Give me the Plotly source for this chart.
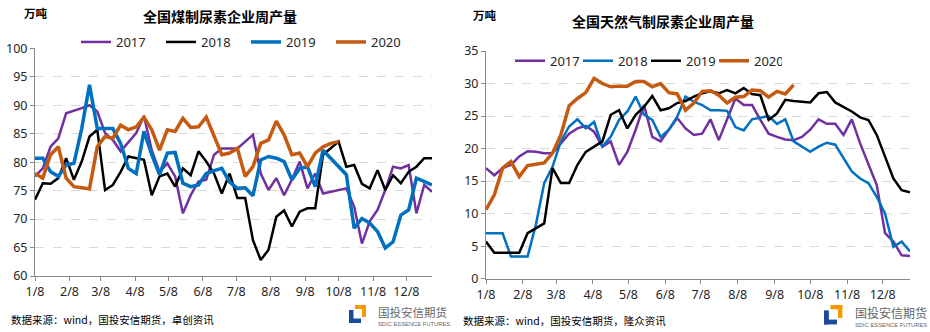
import pandas as pd
import plotly.graph_objects as go

W, H = 930, 332

# ---------------- data ----------------
week_dates = pd.date_range("2019-01-08", periods=52, freq="7D")
month_ticks = pd.date_range("2019-01-01", periods=12, freq="MS") + pd.Timedelta(days=7)
month_labels = [f"{m}/8" for m in range(1, 13)]

series_names = ["2017", "2018", "2019", "2020"]

coal_2017 = [77.5, 78.9, 82.7, 84.2, 88.6, 89.0, 89.5, 90.0, 88.9, 85.1, 83.9, 81.9, 83.6,
             85.1, 88.1, 82.1, 78.3, 79.8, 77.5, 71.0, 74.2, 76.6, 76.9, 81.3, 82.4, 82.4,
             82.4, 83.6, 84.8, 78.0, 75.1, 77.2, 74.2, 76.9, 80.1, 75.4, 78.0, 74.5, 74.8,
             75.1, 75.4, 72.2, 65.7, 69.6, 71.6, 75.1, 79.2, 78.9, 79.5, 71.0, 76.0, 74.8]
coal_2018 = [73.4, 76.3, 76.2, 77.2, 80.7, 76.9, 80.1, 84.5, 85.7, 75.1, 76.0, 78.3, 81.0,
             80.7, 80.4, 74.2, 77.5, 78.0, 75.7, 78.9, 77.7, 81.9, 80.1, 78.0, 74.5, 78.0,
             73.7, 73.7, 66.3, 62.8, 64.6, 70.4, 71.5, 68.7, 71.3, 71.9, 71.9, 81.3, 82.4,
             83.6, 79.2, 79.5, 76.2, 75.4, 78.6, 75.1, 77.7, 76.3, 78.3, 79.2, 80.7, 80.7]
coal_2019 = [80.7, 80.7, 78.3, 77.5, 79.5, 79.8, 85.9, 93.6, 85.9, 85.9, 85.9, 83.3, 78.9,
             78.0, 85.4, 81.3, 77.8, 81.6, 81.7, 76.3, 75.7, 76.0, 78.0, 78.5, 78.9, 76.5,
             75.4, 75.5, 74.1, 80.4, 81.0, 80.7, 80.1, 76.9, 78.9, 79.2, 75.7, 82.1, 80.7,
             79.2, 77.8, 68.4, 70.1, 69.3, 67.8, 64.9, 66.0, 70.7, 71.6, 77.2, 76.6, 76.0]
coal_2020 = [78.0, 77.2, 81.3, 82.7, 77.2, 75.7, 75.5, 75.3, 82.7, 84.5, 84.2, 86.5, 85.7,
             86.2, 87.9, 85.7, 82.1, 85.7, 85.4, 87.7, 86.1, 86.2, 87.9, 84.5, 81.3, 81.6,
             82.4, 77.5, 79.2, 83.3, 83.9, 87.2, 84.8, 81.3, 81.6, 79.2, 81.6, 82.7, 83.3,
             83.6]

gas_2017 = [17.0, 15.9, 17.0, 17.5, 18.8, 19.6, 19.5, 19.3, 19.3, 20.8, 22.3, 23.1, 23.5,
            22.6, 20.3, 21.1, 17.5, 19.5, 22.9, 26.7, 21.8, 21.1, 22.9, 24.7, 23.1, 22.1,
            22.3, 24.5, 21.3, 24.4, 27.7, 26.7, 26.7, 24.4, 22.3, 21.8, 21.4, 21.3, 21.8,
            22.9, 24.5, 23.8, 23.8, 22.1, 24.5, 20.8, 17.5, 14.4, 7.0, 5.7, 3.6, 3.5]
gas_2018 = [7.0, 7.0, 7.0, 3.4, 3.4, 3.4, 8.3, 14.7, 17.2, 21.1, 23.4, 24.5, 23.1,
            24.1, 20.3, 21.8, 24.4, 25.7, 28.0, 25.2, 24.4, 21.8, 22.9, 24.9, 28.0, 27.2,
            26.7, 25.9, 25.9, 25.8, 23.3, 22.8, 24.5, 24.8, 25.0, 23.8, 24.5, 21.1, 20.3,
            19.5, 20.3, 20.9, 20.6, 18.5, 16.5, 15.4, 14.7, 12.6, 10.0, 4.9, 5.7, 4.2]
gas_2019 = [5.7, 4.0, 4.0, 4.0, 4.0, 7.0, 7.7, 8.5, 17.0, 14.7, 14.7, 17.5, 19.5,
            20.3, 21.1, 25.2, 25.9, 23.1, 25.2, 26.4, 28.1, 25.9, 26.2, 27.0, 27.3, 28.0,
            28.5, 28.8, 28.5, 29.0, 28.5, 29.3, 28.4, 28.2, 24.4, 25.4, 27.5, 27.3, 27.2,
            27.1, 28.5, 28.7, 27.1, 26.4, 25.7, 24.8, 24.4, 22.1, 18.8, 15.4, 13.6, 13.3]
gas_2020 = [10.6, 12.9, 17.0, 18.0, 15.7, 17.4, 17.6, 17.8, 19.3, 22.1, 26.6, 27.7, 28.6,
            30.8, 30.0, 29.5, 29.6, 29.6, 30.3, 30.3, 29.5, 30.0, 28.6, 28.4, 25.9, 27.0,
            28.8, 28.9, 28.2, 27.0, 27.9, 28.0, 29.0, 28.9, 27.9, 28.8, 28.4, 29.8]

left_title = "全国煤制尿素企业周产量"
right_title = "全国天然气制尿素企业周产量"
unit = "万吨"
left_source = "数据来源：wind，国投安信期货，卓创资讯"
right_source = "数据来源：wind，国投安信期货，隆众资讯"

# ---------------- style ----------------
PURPLE, BLACK, BLUE, ORANGE = "#7030A0", "#000000", "#0070C0", "#C55A11"
FONT = "Noto Sans, Noto Sans CJK SC, sans-serif"
CJK = "Noto Sans CJK SC, sans-serif"
AXIS = "#898989"
GRID = "#D9D9D9"


def px(x):
    return x / W


def py(y):
    return 1 - y / H


left_styles = [(PURPLE, 2.5), (BLACK, 2.5), (BLUE, 3.5), (ORANGE, 3.5)]
right_styles = [(PURPLE, 2.5), (BLUE, 2.5), (BLACK, 2.5), (ORANGE, 3.5)]

fig = go.Figure()
for name, vals, (c, w) in zip(series_names, [coal_2017, coal_2018, coal_2019, coal_2020], left_styles):
    fig.add_trace(go.Scatter(x=week_dates[:len(vals)], y=vals, name=name, mode="lines",
                             line=dict(color=c, width=w), xaxis="x", yaxis="y",
                             legend="legend"))
for name, vals, (c, w) in zip(series_names, [gas_2017, gas_2018, gas_2019, gas_2020], right_styles):
    fig.add_trace(go.Scatter(x=week_dates[:len(vals)], y=vals, name=name, mode="lines",
                             line=dict(color=c, width=w), xaxis="x2", yaxis="y2",
                             legend="legend2"))

xcommon = dict(type="date", range=[week_dates[0], week_dates[-1]], tickvals=list(month_ticks),
               ticktext=month_labels, showgrid=False, showline=True, linecolor=AXIS, linewidth=1,
               ticks="outside", ticklen=4, tickcolor=AXIS, tickfont=dict(size=12.5, color="#262626", family=FONT),
               zeroline=False, automargin=False, fixedrange=True)
ycommon = dict(dtick=5, showgrid=True, gridcolor=GRID, griddash="dash", gridwidth=1,
               showline=True, linecolor=AXIS, linewidth=1, ticks="outside", ticklen=4,
               tickcolor=AXIS, tickfont=dict(size=12.5, color="#262626", family=FONT),
               zeroline=False, automargin=False, fixedrange=True)

fig.update_layout(
    template="none",
    width=W, height=H,
    margin=dict(l=0, r=0, t=0, b=0),
    paper_bgcolor="white", plot_bgcolor="white",
    font=dict(family=FONT, size=12, color="#262626"),
    xaxis=dict(xcommon, domain=[px(35), px(432)], anchor="y"),
    yaxis=dict(ycommon, domain=[py(276), py(48.3)], range=[60, 100], tick0=60, anchor="x"),
    xaxis2=dict(xcommon, domain=[px(486), px(910)], anchor="y2"),
    yaxis2=dict(ycommon, domain=[py(278.7), py(51)], range=[0, 35], tick0=0, anchor="x2"),
    legend=dict(orientation="h", x=px(76), y=py(42), xanchor="left", yanchor="middle",
                entrywidth=40, entrywidthmode="pixels", bgcolor="rgba(0,0,0,0)",
                font=dict(size=13, family=FONT, color="#262626"), borderwidth=0),
    legend2=dict(orientation="h", x=px(510), y=py(60.7), xanchor="left", yanchor="middle",
                 entrywidth=23, entrywidthmode="pixels", bgcolor="rgba(0,0,0,0)",
                 font=dict(size=13, family=FONT, color="#262626"), borderwidth=0),
    showlegend=True,
)

ann = []


def text(x, y, s, size, bold=False, color="#000000", anchor="left", family=CJK):
    ann.append(dict(x=px(x), y=py(y), xref="paper", yref="paper", showarrow=False,
                    text=f"<b>{s}</b>" if bold else s, xanchor=anchor, yanchor="middle",
                    font=dict(size=size, color=color, family=family)))


text(22, 13, unit, 11.5, bold=True)
text(219.5, 16, left_title, 14, bold=True, anchor="center")
text(471, 15, unit, 11.5, bold=True)
text(662.5, 20.7, right_title, 14, bold=True, anchor="center")
text(9, 319, left_source, 10.5)
text(461, 320, right_source, 10.5)

shapes = []


def rect(x0, y0, x1, y1, color):
    shapes.append(dict(type="rect", xref="paper", yref="paper", x0=px(x0), x1=px(x1),
                       y0=py(y1), y1=py(y0), fillcolor=color, line=dict(width=0), layer="above"))


def logo(x0, y0, s, tx, ty, tsize, sub_dy):
    ow, bw = "#F39A00", "#1C4A9C"
    rect(x0 + 6 * s, y0, x0 + 17 * s, y0 + 4 * s, ow)
    rect(x0 + 13 * s, y0, x0 + 17 * s, y0 + 12 * s, ow)
    rect(x0, y0 + 5 * s, x0 + 4.5 * s, y0 + 18 * s, bw)
    rect(x0, y0 + 13.5 * s, x0 + 12 * s, y0 + 18 * s, bw)
    text(tx, ty, "国投安信期货", tsize, color="#666666")
    text(tx, ty + sub_dy, "SDIC ESSENCE FUTURES", 5.8, color="#666666",
         family="Liberation Sans Narrow, Arial Narrow, sans-serif")


logo(349, 305, 1.0, 376, 312, 11.5, 12)
logo(824, 305, 1.08, 853, 312, 12, 13)

fig.update_layout(annotations=ann, shapes=shapes)
fig.write_html("out.html")
